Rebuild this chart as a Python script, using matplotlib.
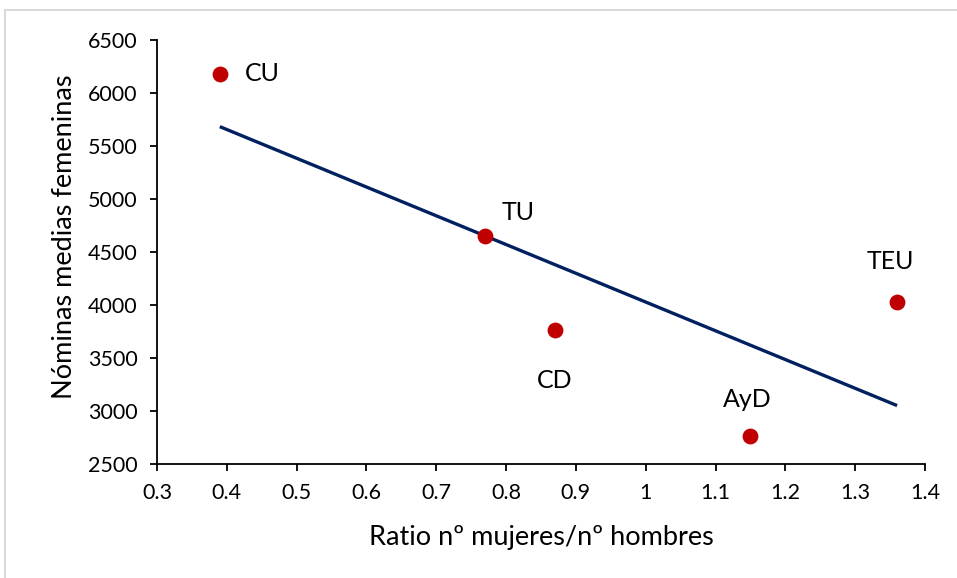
import numpy as np
import matplotlib.pyplot as plt
from matplotlib.patches import Rectangle

plt.rcParams['font.family'] = ['Lato', 'DejaVu Sans']

# data
labels = ['CU', 'TU', 'CD', 'AyD', 'TEU']
ratio = [0.39, 0.77, 0.87, 1.15, 1.36]
nominas = [6180, 4651, 3764, 2764, 4028]
xticks = [0.3, 0.4, 0.5, 0.6, 0.7, 0.8, 0.9, 1, 1.1, 1.2, 1.3, 1.4]
xticklabels = ['0.3', '0.4', '0.5', '0.6', '0.7', '0.8', '0.9', '1', '1.1', '1.2', '1.3', '1.4']
yticks = [2500, 3000, 3500, 4000, 4500, 5000, 5500, 6000, 6500]

W, H = 957, 578
fig = plt.figure(figsize=(W / 100, H / 100), dpi=100)
# light border of the (cropped) chart area
fig.patches.append(Rectangle((5 / W, -0.1), 1.2, 1.1 - 10 / H, transform=fig.transFigure,
                             fill=False, edgecolor='#D9D9D9', linewidth=1.5))

ax = fig.add_axes([157 / W, 1 - 464 / H, (925 - 157) / W, (464 - 40) / H])

# linear trend line as Excel would draw it
slope, icpt = np.polyfit(ratio, nominas, 1)
xl = np.array([min(ratio), max(ratio)])
ax.plot(xl, slope * xl + icpt, color='#002060', lw=2.4, solid_capstyle='butt', zorder=2)

ax.scatter(ratio, nominas, s=130, color='#C00000', zorder=3, linewidths=0)

# label offsets in points (dx, dy)
offs = {'CU': (18, 0), 'TU': (24, 17), 'CD': (0, -36), 'AyD': (-2, 26), 'TEU': (-5, 29)}
for lab, x, y in zip(labels, ratio, nominas):
    dx, dy = offs[lab]
    ax.annotate(lab, (x, y), xytext=(dx, dy), textcoords='offset points',
                ha='left' if lab == 'CU' else 'center', va='center', fontsize=18)

ax.set_xlim(0.3, 1.4)
ax.set_ylim(2500, 6500)
ax.set_xticks(xticks)
ax.set_xticklabels(xticklabels)
ax.set_yticks(yticks)
ax.tick_params(labelsize=15.5, length=5, width=1.3, direction='out')
ax.tick_params(axis='y', pad=9)
ax.tick_params(axis='x', pad=9)
for s in ['top', 'right']:
    ax.spines[s].set_visible(False)
for s in ['left', 'bottom']:
    ax.spines[s].set_linewidth(1.3)

fig.text(541 / W, 1 - 537 / H, 'Ratio nº mujeres/nº hombres', fontsize=19.5,
         ha='center', va='center')
fig.text(65 / W, 1 - 237 / H, 'Nóminas medias femeninas', fontsize=19.5,
         ha='center', va='center', rotation=90)

fig.savefig('out.png', dpi=100)
